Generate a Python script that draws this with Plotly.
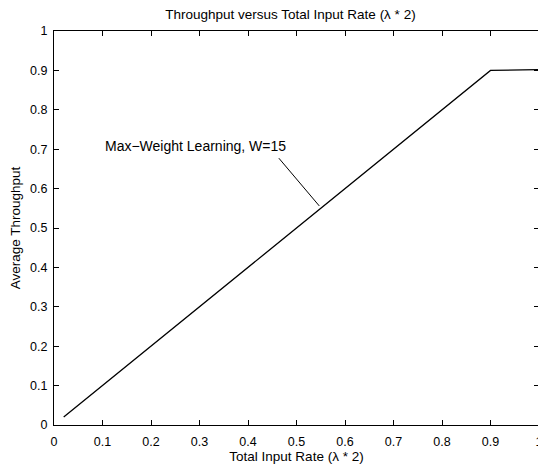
import plotly.graph_objects as go

# Data
input_rate = [0.02, 0.1, 0.2, 0.3, 0.4, 0.5, 0.6, 0.7, 0.8, 0.9, 1.0]
throughput = [0.02, 0.1, 0.2, 0.3, 0.4, 0.5, 0.6, 0.7, 0.8, 0.9, 0.902]
tick_vals = [0, 0.1, 0.2, 0.3, 0.4, 0.5, 0.6, 0.7, 0.8, 0.9, 1]
tick_text = ["0", "0.1", "0.2", "0.3", "0.4", "0.5", "0.6", "0.7", "0.8", "0.9", "1"]

label_text = "Max\u2212Weight Learning, W=15"
label_pos = (0.10, 0.709)
arrow_tail = (0.461, 0.681)
arrow_head = (0.547, 0.556)

FAM = "Liberation Sans, Arial, sans-serif"
tick_font = dict(family=FAM, size=12.5, color="black")
text_font = dict(family=FAM, size=13.5, color="black")
note_font = dict(family=FAM, size=14, color="black")

fig = go.Figure()
fig.add_trace(go.Scatter(x=input_rate, y=throughput, mode="lines",
                         line=dict(color="black", width=1.3), showlegend=False))

fig.add_annotation(x=label_pos[0], y=label_pos[1], text=label_text, showarrow=False,
                   xanchor="left", yanchor="middle", font=note_font)
fig.add_annotation(x=arrow_head[0], y=arrow_head[1], ax=arrow_tail[0], ay=arrow_tail[1],
                   axref="x", ayref="y", xref="x", yref="y", text="", showarrow=True,
                   arrowhead=0, arrowwidth=1, arrowcolor="black")

axis_common = dict(range=[0, 1], tickmode="array", tickvals=tick_vals, ticktext=tick_text,
                   ticks="inside", ticklen=5, tickcolor="black", tickwidth=1,
                   showline=True, linecolor="black", linewidth=1, mirror="ticks",
                   showgrid=False, zeroline=False, tickfont=tick_font, automargin=False)

fig.update_xaxes(**axis_common, ticklabelstandoff=5,
                 title=dict(text="Total Input Rate (\u03bb * 2)", font=text_font, standoff=2))
fig.update_yaxes(**axis_common, ticklabelstandoff=3,
                 title=dict(text="Average Throughput", font=text_font, standoff=8))

# page body adds an 8px offset; figure sized so the plot area lands where the reference has it
fig.update_layout(
    width=538, height=456,
    margin=dict(l=46, r=7, t=23, b=39),
    plot_bgcolor="white", paper_bgcolor="white",
    title=dict(text="Throughput versus Total Input Rate (\u03bb * 2)", font=text_font,
               x=0.525, xanchor="center", y=0.986, yanchor="middle", automargin=False),
)

fig.write_html("out.html")
